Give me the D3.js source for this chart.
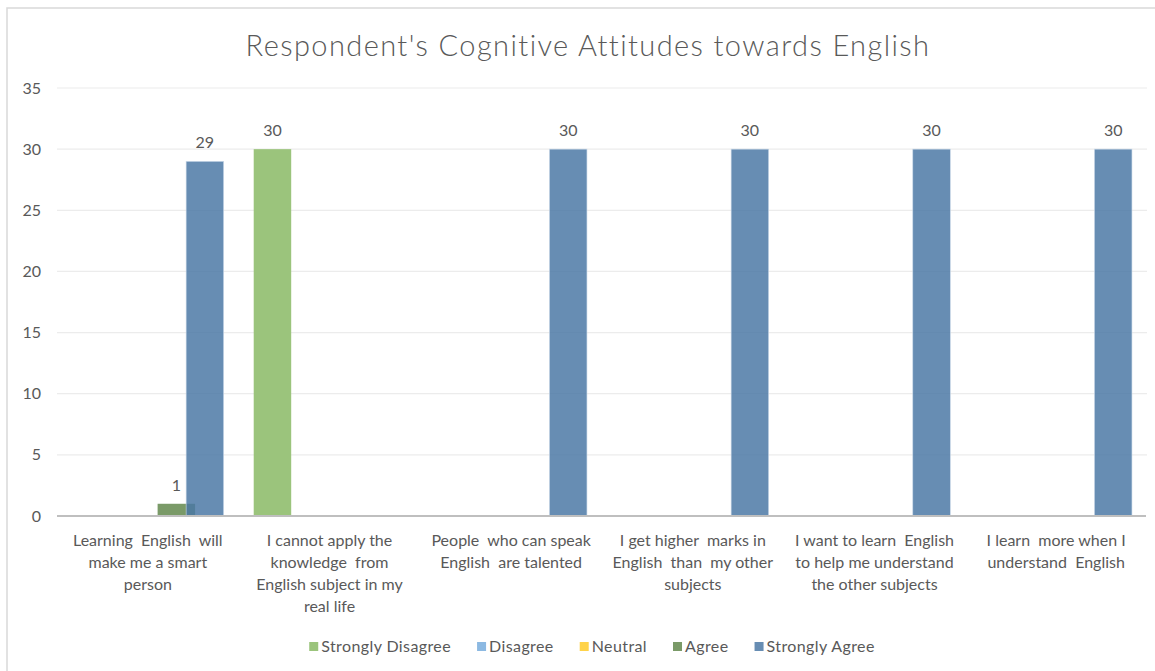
<!DOCTYPE html>
<html>
<head>
<meta charset="utf-8">
<script src="https://cdn.jsdelivr.net/npm/d3@7"></script>
<style>
  html, body { margin: 0; padding: 0; background: #fff; }
  svg { display: block; font-family: "Lato", "Open Sans", sans-serif; }
</style>
</head>
<body>
<svg id="chart" width="1155" height="671"></svg>
<script>
// Survey statements (x-axis categories), each pre-split into wrapped lines
const categories = [
  "Learning English will make me a smart person",
  "I cannot apply the knowledge from English subject in my real life",
  "People who can speak English are talented",
  "I get higher marks in English than my other subjects",
  "I want to learn English to help me understand the other subjects",
  "I learn more when I understand English"
];
const categoryLines = [
  ["Learning  English  will", "make me a smart", "person"],
  ["I cannot apply the", "knowledge  from", "English subject in my", "real life"],
  ["People  who can speak", "English  are talented"],
  ["I get higher  marks in", "English  than  my other", "subjects"],
  ["I want to learn  English", "to help me understand", "the other subjects"],
  ["I learn  more when I", "understand  English"]
];

// Response scale
const seriesNames = ["Strongly Disagree", "Disagree", "Neutral", "Agree", "Strongly Agree"];
const seriesColors = ["#9bc47c", "#8cb9e2", "#ffd34a", "#7a9a68", "#4a77a4"];

// Number of respondents per response, one value per statement
const stronglyDisagree = [0, 30, 0, 0, 0, 0];
const disagree         = [0, 0, 0, 0, 0, 0];
const neutral          = [0, 0, 0, 0, 0, 0];
const agree            = [1, 0, 0, 0, 0, 0];
const stronglyAgree    = [29, 0, 30, 30, 30, 30];

const yTicks = [0, 5, 10, 15, 20, 25, 30, 35];

const seriesValues = [stronglyDisagree, disagree, neutral, agree, stronglyAgree];

const svg = d3.select("#chart");
const textColor = "#595959";
const fontSize = 16;

// Chart frame
svg.append("rect")
  .attr("x", 7).attr("y", 8)
  .attr("width", 1160).attr("height", 680)
  .attr("fill", "#fff")
  .attr("stroke", "#d9d9d9").attr("stroke-width", 1.5);

// Title
svg.append("text")
  .attr("x", 588).attr("y", 56)
  .attr("text-anchor", "middle")
  .attr("fill", textColor)
  .attr("font-size", 29)
  .attr("font-weight", 300)
  .attr("letter-spacing", 1.4)
  .text("Respondent's Cognitive Attitudes towards English");

// Scales
const x0 = d3.scaleBand().domain(d3.range(categories.length)).range([57, 1147]).padding(0);
const y = d3.scaleLinear().domain([0, 35]).range([516, 88]);

// Bars overlap slightly inside each cluster
const bw = x0.bandwidth();
const barWidth = bw * 0.2064;
const barStep = bw * 0.157;
const clusterOffset = (bw - (barStep * (seriesNames.length - 1) + barWidth)) / 2;
const x1 = d3.scaleLinear()
  .domain([0, seriesNames.length - 1])
  .range([clusterOffset, clusterOffset + barStep * (seriesNames.length - 1)]);

// Gridlines
svg.append("g")
  .selectAll("line")
  .data(yTicks.filter(t => t > 0))
  .join("line")
  .attr("x1", 57).attr("x2", 1147)
  .attr("y1", d => y(d)).attr("y2", d => y(d))
  .attr("stroke", "#ececec").attr("stroke-width", 1.2);

// Y axis labels
const yAxis = d3.axisLeft(y).tickValues(yTicks).tickSize(0).tickPadding(0);
const yg = svg.append("g").attr("transform", "translate(41,0)").call(yAxis);
yg.select(".domain").remove();
yg.selectAll("text")
  .attr("fill", textColor)
  .attr("font-size", fontSize)
  .attr("font-family", "Lato, sans-serif");

// Bars
const barData = [];
seriesValues.forEach((vals, s) => {
  vals.forEach((v, c) => barData.push({ s, c, v }));
});
const shown = barData.filter(d => d.v > 0);

svg.append("g")
  .selectAll("rect")
  .data(shown)
  .join("rect")
  .attr("x", d => x0(d.c) + x1(d.s))
  .attr("y", d => y(d.v))
  .attr("width", barWidth)
  .attr("height", d => y(0) - y(d.v))
  .attr("fill", d => seriesColors[d.s])
  .attr("fill-opacity", d => d.s === 4 ? 0.84 : 1)
  .attr("stroke", d => d.s === 4 ? "#c9d8e8" : "none")
  .attr("stroke-width", 0.6);

// Baseline
svg.append("line")
  .attr("x1", 57).attr("x2", 1146)
  .attr("y1", y(0)).attr("y2", y(0))
  .attr("stroke", "#bfbfbf").attr("stroke-width", 2);

// Value labels
svg.append("g")
  .selectAll("text")
  .data(shown)
  .join("text")
  .attr("x", d => x0(d.c) + x1(d.s) + barWidth / 2)
  .attr("y", d => y(d.v) - 13)
  .attr("text-anchor", "middle")
  .attr("fill", textColor)
  .attr("font-size", fontSize)
  .text(d => d.v);

// Category labels
const catG = svg.append("g");
categoryLines.forEach((lines, c) => {
  const t = catG.append("text")
    .attr("x", x0(c) + bw / 2)
    .attr("y", 546)
    .attr("text-anchor", "middle")
    .attr("fill", textColor)
    .attr("font-size", fontSize)
    .style("white-space", "pre");
  lines.forEach((ln, i) => {
    t.append("tspan")
      .attr("x", x0(c) + bw / 2)
      .attr("dy", i === 0 ? 0 : 22)
      .text(ln);
  });
});

// Legend
const legend = svg.append("g");
let lx = 0;
seriesNames.forEach((name, i) => {
  const g = legend.append("g");
  g.append("rect").attr("x", 0).attr("y", -10).attr("width", 9).attr("height", 9)
    .attr("fill", seriesColors[i]).attr("fill-opacity", i === 4 ? 0.84 : 1);
  const t = g.append("text").attr("x", 12).attr("y", 0)
    .attr("fill", textColor).attr("font-size", fontSize).attr("letter-spacing", 0.4).text(name);
  const w = 12 + t.node().getComputedTextLength();
  g.attr("transform", `translate(${lx},0)`);
  lx += w + 26;
});
const legendWidth = lx - 26;
legend.attr("transform", `translate(${(57 + 1147) / 2 - legendWidth / 2-10},652)`);
</script>
</body>
</html>
